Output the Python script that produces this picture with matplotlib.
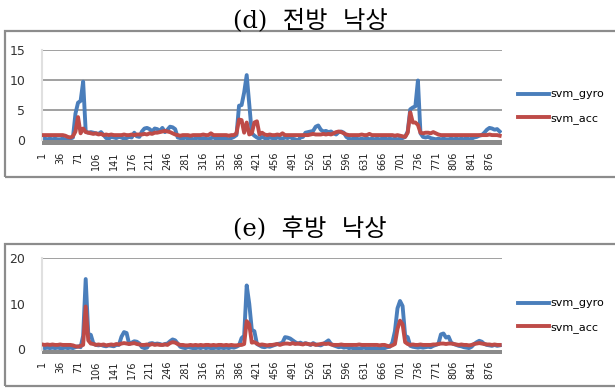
import numpy as np
import matplotlib
matplotlib.use("Agg")
import matplotlib.pyplot as plt
from matplotlib.patches import Rectangle

# sample index (every 5th sample of ~900)
samples = np.arange(1, 900, 5)
tick_labels = list(range(1, 900, 35))

# (d) forward fall
d_gyro = [
    0.2, 0.3, 0.2, 0.3, 0.2, 0.3, 0.2, 0.2, 0.3, 0.2,
    0.2, 0.3, 0.5, 4.5, 6.3, 6.6, 9.8, 1.5, 1.3, 1.4,
    1.3, 1.2, 1.1, 1.4, 0.9, 0.4, 0.3, 0.6, 0.5, 0.4,
    0.6, 0.5, 0.3, 0.4, 0.6, 0.5, 1.3, 0.7, 0.6, 1.5,
    2.0, 2.1, 1.9, 1.5, 2.0, 1.9, 1.6, 2.1, 1.4, 1.8,
    2.3, 2.2, 1.9, 0.5, 0.4, 0.3, 0.5, 0.3, 0.4, 0.2,
    0.3, 0.5, 0.2, 0.4, 0.3, 0.2, 0.4, 0.5, 0.3, 0.4,
    0.3, 0.4, 0.3, 0.2, 0.4, 0.6, 0.9, 5.8, 5.9, 8.0,
    10.9, 6.0, 1.2, 0.8, 0.5, 0.3, 0.6, 0.4, 0.3, 0.5,
    0.4, 0.3, 0.5, 0.4, 0.3, 0.5, 0.4, 0.6, 0.3, 0.2,
    0.0, 0.5, 0.6, 1.3, 1.4, 1.5, 1.6, 2.3, 2.5, 1.8,
    1.5, 1.6, 1.4, 1.5, 1.2, 1.0, 1.4, 1.5, 1.3, 0.6,
    0.3, 0.2, 0.4, 0.3, 0.2, 0.3, 0.2, 0.4, 0.2, 0.3,
    0.2, 0.3, 0.2, 0.3, 0.4, 0.2, 0.3, 0.2, 0.3, 0.2,
    0.3, 0.4, 0.6, 1.5, 5.2, 5.5, 5.7, 10.0, 1.2, 0.6,
    0.5, 0.6, 0.4, 0.3, 0.2, 0.3, 0.2, 0.3, 0.2, 0.2,
    0.3, 0.2, 0.3, 0.2, 0.3, 0.2, 0.4, 0.2, 0.3, 0.5,
    0.6, 0.8, 0.9, 1.3, 1.8, 2.1, 2.0, 1.8, 1.9, 1.5,
]
d_acc = [
    0.9, 0.9, 0.9, 0.9, 0.9, 0.9, 0.9, 0.9, 0.9, 0.8,
    0.6, 0.5, 0.7, 1.5, 3.9, 1.2, 2.0, 1.4, 1.3, 1.2,
    1.1, 1.2, 1.0, 1.1, 0.9, 1.0, 0.9, 1.0, 0.9, 0.9,
    0.9, 0.9, 1.0, 0.9, 0.9, 1.0, 0.9, 1.0, 1.0, 1.0,
    1.1, 1.0, 1.2, 1.1, 1.3, 1.3, 1.4, 1.5, 1.6, 1.5,
    1.4, 1.2, 1.0, 0.9, 0.8, 0.9, 0.9, 0.9, 0.8, 0.9,
    0.9, 0.9, 0.9, 1.0, 0.9, 0.9, 1.2, 0.9, 0.9, 0.9,
    0.9, 0.9, 0.9, 0.8, 0.9, 0.9, 1.2, 3.5, 3.4, 1.3,
    3.0, 1.0, 1.2, 3.0, 3.2, 1.0, 1.3, 1.0, 0.9, 1.0,
    0.9, 0.9, 1.0, 0.9, 1.2, 0.9, 0.9, 0.9, 0.9, 0.9,
    0.9, 0.9, 0.9, 0.9, 0.9, 1.0, 1.1, 1.0, 1.0, 1.0,
    1.1, 1.0, 1.1, 1.0, 1.2, 1.4, 1.5, 1.4, 1.2, 1.0,
    0.9, 0.9, 0.9, 0.9, 0.9, 1.0, 0.9, 0.9, 1.1, 0.9,
    0.9, 0.9, 0.9, 0.9, 0.9, 0.9, 0.9, 0.9, 0.8, 0.9,
    0.8, 0.7, 0.6, 1.3, 4.7, 3.0, 3.0, 2.6, 1.3, 1.2,
    1.3, 1.3, 1.2, 1.4, 1.2, 1.0, 0.9, 0.9, 0.9, 0.9,
    0.9, 0.9, 0.9, 0.9, 0.9, 0.9, 0.9, 0.9, 0.9, 0.9,
    0.9, 0.9, 0.9, 0.9, 0.9, 1.0, 0.9, 0.9, 0.9, 0.8,
]

# (e) backward fall
e_gyro = [
    0.4, 0.3, 0.4, 0.3, 0.4, 0.3, 0.4, 0.3, 0.3, 0.4,
    0.3, 0.4, 0.3, 0.5, 0.7, 0.5, 3.0, 15.4, 3.4, 3.2,
    1.3, 1.0, 0.9, 1.0, 0.8, 0.7, 0.9, 0.8, 0.7, 1.0,
    1.0, 2.8, 3.8, 3.6, 1.2, 1.5, 1.8, 1.7, 1.3, 0.5,
    0.3, 0.4, 1.3, 1.4, 1.2, 1.3, 1.2, 1.0, 1.2, 1.3,
    1.8, 2.2, 2.0, 1.3, 0.6, 0.4, 0.3, 0.5, 0.4, 0.3,
    0.3, 0.4, 0.3, 0.5, 0.3, 0.4, 0.3, 0.3, 0.4, 0.3,
    0.4, 0.3, 0.4, 0.3, 0.5, 0.4, 0.6, 0.9, 2.5, 3.0,
    14.0, 10.0, 4.3, 4.0, 1.2, 0.9, 0.6, 0.5, 0.7, 0.6,
    0.8, 1.0, 1.2, 1.3, 1.5, 2.7, 2.6, 2.4, 2.0, 1.6,
    1.3, 1.5, 1.2, 1.4, 1.2, 1.0, 1.4, 1.1, 1.0, 0.9,
    1.2, 1.6, 2.0, 1.2, 0.9, 0.7, 0.5, 0.6, 0.4, 0.5,
    0.3, 0.4, 0.2, 0.3, 0.2, 0.3, 0.4, 0.2, 0.3, 0.2,
    0.3, 0.2, 0.3, 0.2, 0.3, 0.5, 0.6, 1.5, 4.0, 9.0,
    10.6, 9.5, 3.0, 2.7, 0.8, 0.6, 0.5, 0.4, 0.5, 0.4,
    0.5, 0.6, 0.5, 0.8, 1.0, 1.2, 3.3, 3.5, 2.6, 2.8,
    1.5, 1.2, 1.0, 0.8, 0.7, 0.5, 0.4, 0.3, 0.6, 1.2,
    1.6, 1.9, 1.7, 1.2, 1.0, 0.9, 0.8, 1.0, 0.8, 0.9,
]
e_acc = [
    1.1, 1.0, 1.1, 1.0, 1.1, 1.0, 1.0, 1.1, 1.0, 1.0,
    1.0, 1.0, 0.9, 0.7, 0.6, 0.8, 1.0, 9.4, 2.0, 1.3,
    1.2, 1.0, 1.1, 1.0, 1.1, 0.9, 1.0, 1.1, 1.0, 1.2,
    1.1, 1.3, 1.4, 1.3, 1.2, 1.3, 1.4, 1.2, 1.1, 1.0,
    1.0, 1.1, 1.0, 1.2, 1.0, 1.1, 1.0, 1.0, 1.1, 1.0,
    1.4, 1.6, 1.5, 1.2, 1.0, 1.0, 0.9, 0.9, 1.0, 0.9,
    1.0, 0.9, 1.0, 0.9, 1.0, 1.0, 0.9, 1.0, 0.9, 1.0,
    1.0, 0.9, 1.0, 0.9, 1.0, 0.9, 0.9, 1.0, 1.0, 1.2,
    6.2, 5.5, 1.5, 1.6, 1.3, 1.0, 1.1, 1.0, 0.9, 1.0,
    1.0, 1.1, 1.2, 1.0, 1.2, 1.3, 1.3, 1.2, 1.4, 1.2,
    1.3, 1.2, 1.1, 1.3, 1.2, 1.1, 1.2, 1.0, 1.1, 1.2,
    1.3, 1.2, 1.3, 1.1, 1.0, 1.0, 1.0, 1.1, 1.0, 1.0,
    1.0, 1.0, 1.0, 1.0, 1.1, 1.0, 1.0, 1.0, 1.0, 1.0,
    1.0, 1.0, 0.9, 1.0, 1.0, 0.8, 0.7, 0.9, 1.2, 4.5,
    6.3, 5.5, 1.6, 1.2, 1.0, 1.1, 1.0, 1.0, 1.1, 1.0,
    1.0, 1.0, 1.0, 1.1, 1.1, 1.2, 1.3, 1.3, 1.2, 1.3,
    1.3, 1.2, 1.1, 1.0, 1.1, 1.0, 1.0, 0.9, 1.0, 1.2,
    1.3, 1.4, 1.3, 1.2, 1.1, 1.1, 1.0, 1.1, 1.0, 1.0,
]

BLUE = "#4a7ebb"
RED = "#be4b48"
GRAY = "#868686"
W, H = 615, 389

fig = plt.figure(figsize=(W / 100, H / 100), dpi=100)


def px_rect(x0, y0, x1, y1):
    # pixel box (top-left origin) -> figure fraction [l, b, w, h]
    return [x0 / W, 1 - y1 / H, (x1 - x0) / W, (y1 - y0) / H]


def panel(box, plot, title, title_y, gyro, acc, ymax, yticks, grid_at, leg_y):
    # outer chart frame
    fig.patches.append(Rectangle((box[0] / W, 1 - box[3] / H), (box[2] - box[0]) / W,
                                 (box[3] - box[1]) / H, transform=fig.transFigure,
                                 fill=False, edgecolor="#8c8c8c", lw=1.6))
    fig.text(310 / W, 1 - title_y / H, title, ha="center", va="center", fontsize=17.5,
             family=["DejaVu Serif", "Noto Sans CJK KR"])

    ax = fig.add_axes(px_rect(*plot))
    for v in grid_at:
        ax.axhline(v, color=GRAY, lw=1.1, zorder=0)
    l1, = ax.plot(samples, gyro, color=BLUE, lw=2.8, label="svm_gyro", zorder=2)
    l2, = ax.plot(samples, acc, color=RED, lw=2.8, label="svm_acc", zorder=3)
    ax.set_xlim(0.5, 900.5)
    ax.set_ylim(0, ymax)
    ax.set_yticks(yticks)
    ax.set_yticklabels([str(t) for t in yticks], fontsize=9, color="#333333")
    ax.set_xticks(tick_labels)
    ax.set_xticklabels([str(t) for t in tick_labels], rotation=90, fontsize=7, color="#222222")
    ax.tick_params(axis="both", length=0)
    ax.tick_params(axis="y", pad=12)
    ax.tick_params(axis="x", pad=8)
    for s in ["top", "right", "bottom"]:
        ax.spines[s].set_visible(False)
    ax.spines["left"].set_color("#e0e0e0")
    ax.spines["left"].set_linewidth(1.5)
    # thick gray category axis band under zero
    ax.add_patch(Rectangle((0, -0.05), 1, 0.05, transform=ax.transAxes, clip_on=False,
                           color="#8a8a8a", lw=0, zorder=1))
    ax.set_facecolor("none")
    fig.legend(handles=[l1, l2], loc="center left",
               bbox_to_anchor=(518 / W, 1 - leg_y / H), frameon=False, fontsize=8,
               handlelength=2.8, handletextpad=0.1, labelspacing=1.1,
               borderaxespad=0, borderpad=0)
    return ax


panel((5, 31, 640, 177), (42, 50.5, 502, 140.5), "(d)  전방  낙상", 20,
      d_gyro, d_acc, 15, [0, 5, 10, 15], [5, 10, 15], 106.5)
panel((5, 244, 640, 386), (42, 258, 502, 349.5), "(e)  후방  낙상", 229,
      e_gyro, e_acc, 20, [0, 10, 20], [20], 315.5)

fig.savefig("out.png", dpi=100)
